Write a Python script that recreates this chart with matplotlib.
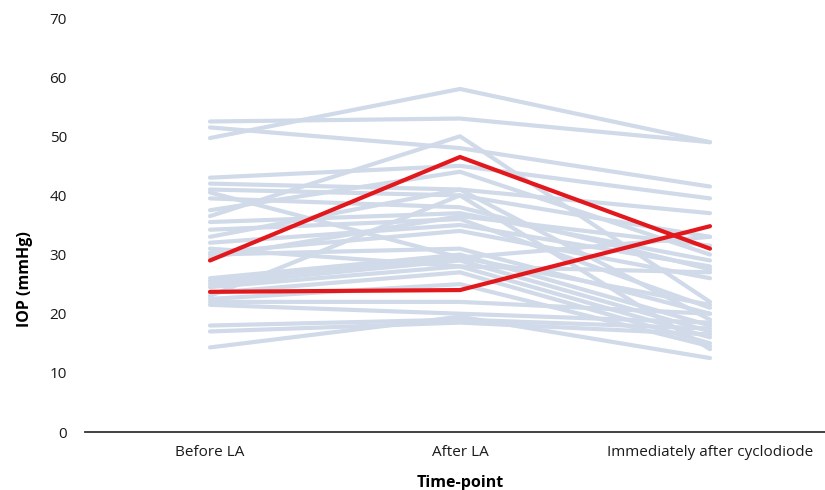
import numpy as np
import matplotlib.pyplot as plt

plt.rcParams['font.family'] = ['Open Sans', 'DejaVu Sans']

# time-points on the x axis
timepoints = ['Before LA', 'After LA', 'Immediately after cyclodiode']

# IOP per eye: before LA, after LA, immediately after cyclodiode
before = [49.7, 52.5, 51.5, 36.5, 43.0, 42.0, 41.0, 39.5, 37.5, 35.5,
          34.2, 33.0, 32.0, 30.3, 30.0, 26.0, 25.5, 25.0, 24.5, 23.5,
          22.5, 22.0, 21.5, 18.0, 17.0, 14.3, 29.5, 31.0, 23.0, 40.5]
after = [58.0, 53.0, 48.0, 50.0, 45.0, 41.0, 40.0, 38.0, 44.0, 37.0,
         36.0, 41.0, 35.0, 34.0, 31.0, 30.0, 29.5, 29.0, 28.0, 27.0,
         25.0, 22.0, 20.0, 19.0, 18.5, 19.5, 36.5, 28.0, 40.0, 29.5]
cyclo = [49.0, 49.0, 41.5, 22.0, 39.5, 37.0, 33.0, 27.5, 30.0, 29.0,
         21.0, 19.0, 28.0, 26.0, 20.0, 18.0, 33.0, 17.0, 16.0, 15.0,
         14.5, 20.0, 18.5, 17.5, 16.5, 12.5, 31.5, 27.0, 14.0, 21.5]

# highlighted eyes (red)
red_before = [29.0, 23.7]
red_after = [46.5, 24.0]
red_cyclo = [31.0, 34.8]

fig = plt.figure(figsize=(8.25, 4.9), dpi=100)
ax = fig.add_axes([85 / 825, 58 / 490, 740 / 825, 414 / 490])

x = np.arange(len(timepoints))
for b, a, c in zip(before, after, cyclo):
    ax.plot(x, [b, a, c], color='#D0DAE9', linewidth=3, solid_capstyle='round', zorder=1)
for b, a, c in zip(red_before, red_after, red_cyclo):
    ax.plot(x, [b, a, c], color='#E3181C', linewidth=3, solid_capstyle='round', zorder=2)

ax.set_xlim(-0.5, 2.46)
ax.set_ylim(0, 70)
ax.set_xticks(x)
ax.set_xticklabels(timepoints, fontsize=11)
ax.set_yticks(np.arange(0, 71, 10))
ax.tick_params(axis='both', length=0, labelsize=11, colors='#1a1a1a')
ax.tick_params(axis='x', pad=9)
ax.tick_params(axis='y', pad=13)

for s in ['top', 'right', 'left']:
    ax.spines[s].set_visible(False)
ax.spines['bottom'].set_color('#333333')
ax.spines['bottom'].set_linewidth(1.3)

ax.set_ylabel('IOP (mmHg)', fontsize=11.5, fontweight='bold')
ax.yaxis.set_label_coords(-0.07, 0.37)
ax.set_xlabel('Time-point', fontsize=11.5, fontweight='bold')
ax.xaxis.set_label_coords(0.507, -0.105)

fig.savefig('out.png', dpi=100)
